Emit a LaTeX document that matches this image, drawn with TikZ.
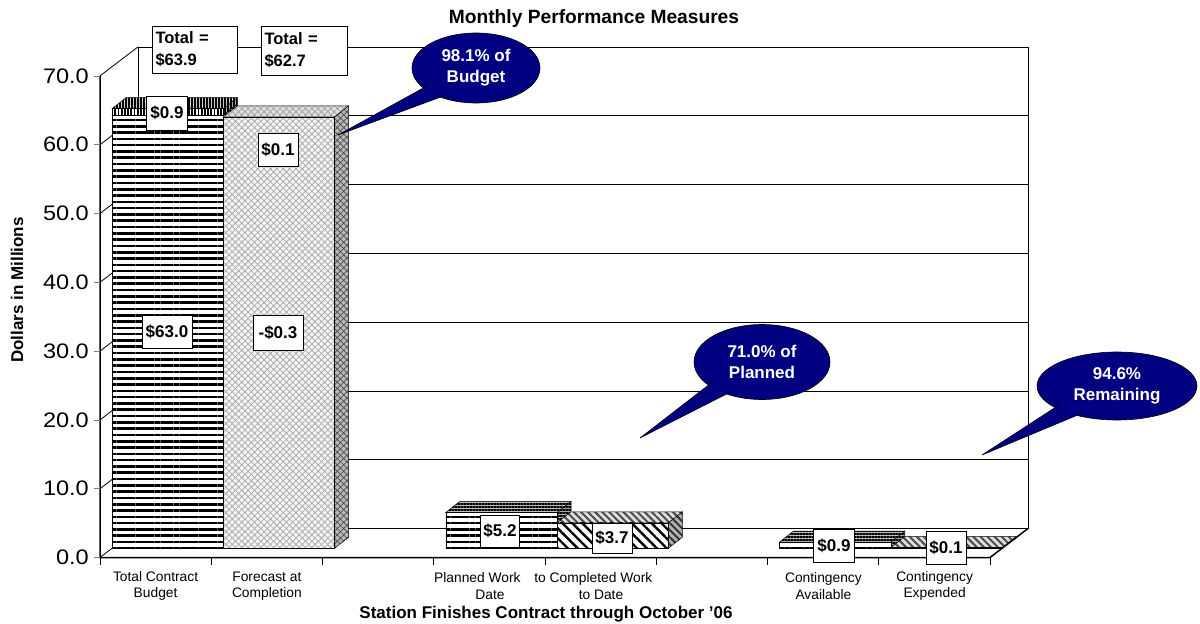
\documentclass[tikz,border=0pt]{standalone}
\usepackage{fontspec}
\setmainfont{Liberation Sans}
\usetikzlibrary{shapes,arrows,positioning,calc,patterns.meta}

\definecolor{navy}{RGB}{0,0,128}

% one 3D block: left x, right x, bottom y, top y, front, top, side
\newcommand{\barblock}[7]{%
  \draw[#7] (#2,#3) -- ++(14,-11) -- (#2+14,#4-11) -- (#2,#4) -- cycle;
  \draw[#6] (#1,#4) -- (#2,#4) -- ++(14,-11) -- (#1+14,#4-11) -- cycle;
  \draw[#5] (#1,#3) rectangle (#2,#4);
}

\begin{document}
\begin{tikzpicture}[x=1pt,y=-1pt]
	\tikzstyle{Wall}	= [black, line width=0.8pt]
	\tikzstyle{Axis}	= [black, line width=1.5pt]
	\tikzstyle{Tick}	= [gray, line width=0.8pt]
	\tikzstyle{HFront}	= [draw, line width=0.5pt, preaction={fill=white}, pattern={Lines[angle=0,distance=6.3pt,line width=2.6pt]}]
	\tikzstyle{HTop}	= [draw, line width=0.5pt, preaction={fill=gray!50}, pattern={Lines[angle=0,distance=3pt,line width=1.5pt]}]
	\tikzstyle{HSide}	= [draw, line width=0.5pt, preaction={fill=gray!70}, pattern={Lines[angle=0,distance=3pt,line width=1.5pt]}]
	\tikzstyle{VFront}	= [draw, line width=0.5pt, preaction={fill=white}, pattern={Lines[angle=90,distance=3.2pt,line width=1.8pt]}]
	\tikzstyle{VTop}	= [draw, line width=0.5pt, preaction={fill=gray!40}, pattern={Lines[angle=90,distance=3pt,line width=1.6pt]}]
	\tikzstyle{VSide}	= [draw, line width=0.5pt, preaction={fill=gray!70}, pattern={Lines[angle=90,distance=3pt,line width=1.4pt]}]
	\tikzstyle{WFront}	= [draw, line width=0.5pt, preaction={fill=gray!8}, pattern={Hatch[angle=45,distance=4.5pt,line width=0.8pt]}, pattern color=gray!65]
	\tikzstyle{WTop}	= [draw, line width=0.5pt, preaction={fill=gray!25}, pattern={Hatch[angle=45,distance=4.5pt,line width=0.7pt]}, pattern color=gray!75]
	\tikzstyle{WSide}	= [draw, line width=0.5pt, preaction={fill=gray!55}, pattern={Hatch[angle=45,distance=4.5pt,line width=0.7pt]}, pattern color=black!70]
	\tikzstyle{DFront}	= [draw, line width=0.5pt, preaction={fill=white}, pattern={Lines[angle=-45,distance=7pt,line width=2.4pt]}]
	\tikzstyle{DTop}	= [draw, line width=0.5pt, preaction={fill=gray!25}, pattern={Lines[angle=-45,distance=5pt,line width=2pt]}, pattern color=gray!60!black]
	\tikzstyle{DSide}	= [draw, line width=0.5pt, preaction={fill=gray!60}, pattern={Lines[angle=-45,distance=5pt,line width=2pt]}, pattern color=black!80]
	\tikzstyle{ValBox}	= [draw, fill=white, line width=0.6pt, inner sep=2pt, font=\bfseries\fontsize{17}{17}\selectfont]
	\tikzstyle{TotBox}	= [draw, fill=white, line width=0.6pt, align=left, inner sep=3pt, font=\bfseries\fontsize{16.5}{22}\selectfont]
	\tikzstyle{Callout}	= [ellipse, draw, fill=navy, line width=0.6pt, text=white, align=center, inner sep=0pt, font=\bfseries\fontsize{17}{21}\selectfont]
	\tikzstyle{Tail}	= [fill=navy, draw=black, line width=0.6pt, line join=round]
	\tikzstyle{CatLabel}	= [align=center, font=\fontsize{13.8}{16.5}\selectfont]
	\tikzstyle{AxisNum}	= [anchor=east, inner sep=0pt, font=\fontsize{21}{21}\selectfont]

	\useasboundingbox (0,0) rectangle (1200,624);

	% walls and floor
	\draw[Wall] (138,47) rectangle (1028,528.5);
	\foreach \v in {10,20,...,60}
		\draw[Wall] (138,528.5-6.88*\v) -- (1028,528.5-6.88*\v);
	\foreach \v in {0,10,...,70}
		\draw[Wall] (100,557.5-6.88*\v) -- (138,528.5-6.88*\v);
	\draw[Axis] (138,528.5) -- (1028,528.5);
	\draw[Axis] (100,75.9) -- (100,557.5) -- (990,557.5) -- (1028,528.5);

	% ticks and numbers
	\foreach \v in {0,10,...,70} {
		\draw[Tick] (94,557.5-6.88*\v) -- (100,557.5-6.88*\v);
		\node[AxisNum] (n\v) at (89,557.5-6.88*\v) {\scalebox{1.12}[1]{\v.0}};
	}
	\foreach \i in {0,...,8}
		\draw[Tick, black] (100+111.25*\i,557.5) -- ++(0,7);

	% bars
	\barblock{112}{223.25}{548.3}{114.9}{HFront}{HTop}{HSide}
	\barblock{112}{223.25}{114.9}{108.7}{VFront}{VTop}{VSide}
	\barblock{223.25}{334.5}{548.3}{116.9}{WFront}{WTop}{WSide}
	\barblock{445.75}{557}{548.3}{512.5}{HFront}{HTop}{HSide}
	\barblock{557}{668.25}{548.3}{522.8}{DFront}{DTop}{DSide}
	\barblock{779.5}{890.75}{548.3}{542.1}{HFront}{HTop}{HSide}
	\barblock{890.75}{1002}{548.3}{547.6}{DFront}{DTop}{DSide}

	% value labels
	\node[TotBox, minimum width=85, minimum height=47, text width=78] (tot1) at (194.5,49.5) {Total =\\\$63.9};
	\node[TotBox, minimum width=86, minimum height=49, text width=79] (tot2) at (304,50.5) {Total =\\\$62.7};
	\node[ValBox, minimum width=41, minimum height=34] (vbudtop) at (167,113) {\$0.9};
	\node[ValBox, minimum width=40, minimum height=33] (vfortop) at (278,150) {\$0.1};
	\node[ValBox, minimum width=50, minimum height=33] (vbud) at (167,332) {\$63.0};
	\node[ValBox, minimum width=50, minimum height=35] (vfor) at (278,333) {-\$0.3};
	\node[ValBox, minimum width=39, minimum height=32] (vplan) at (500,531) {\$5.2};
	\node[ValBox, minimum width=40, minimum height=30] (vdone) at (612,538) {\$3.7};
	\node[ValBox, minimum width=41, minimum height=33] (vavail) at (834,546) {\$0.9};
	\node[ValBox, minimum width=40, minimum height=33] (vused) at (946,548) {\$0.1};

	% callouts
	\coordinate (tbud) at (338,135);
	\coordinate (tplan) at (640,438);
	\coordinate (trem) at (982,455);
	\node[Callout, minimum width=128, minimum height=70] (cbud) at (476,68) {98.1\% of\\Budget};
	\node[Callout, minimum width=136, minimum height=75] (cplan) at (762,362) {71.0\% of\\Planned};
	\node[Callout, minimum width=160, minimum height=68] (crem) at (1117,386) {94.6\%\\Remaining};
	\filldraw[Tail] ($(cbud.center)!0.9!(cbud.200)$) -- (tbud) -- ($(cbud.center)!0.9!(cbud.222)$);
	\filldraw[Tail] ($(cplan.center)!0.9!(cplan.202)$) -- (tplan) -- ($(cplan.center)!0.9!(cplan.224)$);
	\filldraw[Tail] ($(crem.center)!0.9!(crem.198)$) -- (trem) -- ($(crem.center)!0.9!(crem.218)$);

	% texts
	\node[font=\bfseries\fontsize{19.2}{19.2}\selectfont] (title) at (594,19) {Monthly Performance Measures};
	\node[font=\bfseries\fontsize{17}{17}\selectfont] (xtitle) at (546,614) {Station Finishes Contract through October '06};
	\node[font=\bfseries\fontsize{17}{17}\selectfont, rotate=90] (ylabel) at (17,290) {Dollars in Millions};
	\node[CatLabel] (cat1) at (155.6,586) {Total Contract\\Budget};
	\node[CatLabel] (cat2) at (266.9,586) {Forecast at\\Completion};
	\node[CatLabel] (cat3) at (490,586) {Planned Work\hspace{1em}to\\Date};
	\node[CatLabel] (cat4) at (601,586) {Completed Work\\to Date};
	\node[CatLabel] (cat5) at (823.4,586) {Contingency\\Available};
	\node[CatLabel] (cat6) at (934.6,586) {Contingency\\Expended};
\end{tikzpicture}
\end{document}
